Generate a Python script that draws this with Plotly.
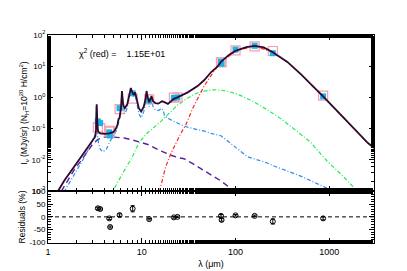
import plotly.graph_objects as go

# ---------------- data ----------------
# total model
tot_wl = [1.15, 1.28, 1.5, 1.8, 2.0, 2.26, 2.6, 3.0, 3.2, 3.25, 3.29, 3.31, 3.36, 3.42, 3.6, 4.0, 4.5, 5.0, 5.3, 5.5,
          5.65, 5.8, 6.0, 6.15, 6.35, 6.6, 7.0, 7.4, 7.65, 7.9, 8.2, 8.5, 8.8, 9.3, 9.85, 10.5, 11.0, 11.25, 11.6,
          12.0, 12.5, 12.7, 13.2, 14.0, 15.0, 16.4, 17.0, 18.0, 19.0, 22.0, 24.0, 30.9, 39.4, 46.5, 55.0, 64.0,
          70.0, 85.0, 100.0, 130.0, 160.0, 200.0, 250.0, 357.0, 500.0, 860.0, 1500.0, 2540.0, 3000.0]
tot_val = [0.0005, 0.001, 0.0022, 0.005, 0.0075, 0.0126, 0.022, 0.042, 0.056, 0.09, 0.5, 0.6, 0.15, 0.08, 0.07, 0.068,
           0.07, 0.078, 0.1, 0.13, 0.2, 0.22, 0.45, 1.6, 0.55, 0.45, 0.6, 1.3, 2.0, 1.5, 1.2, 1.45, 0.9, 0.45, 0.35,
           0.5, 0.9, 1.6, 1.0, 0.7, 0.95, 1.1, 0.75, 0.65, 0.63, 0.75, 0.73, 0.66, 0.62, 0.9, 1.0, 1.45, 2.3, 3.6,
           6.5, 9.6, 13.7, 23.0, 31.0, 41.0, 45.0, 40.0, 28.0, 13.7, 5.5, 1.08, 0.19, 0.036, 0.024]

# PAH component (blue)
pah_wl = [1.35, 1.5, 1.8, 2.08, 2.4, 2.66, 2.9, 3.14, 3.22, 3.27, 3.3, 3.33, 3.38, 3.45, 3.6, 3.84, 4.2, 4.6, 5.1,
          5.4, 5.65, 5.9, 6.15, 6.35, 6.6, 7.0, 7.4, 7.65, 7.9, 8.2, 8.5, 8.8, 9.3, 9.85, 10.5, 11.0, 11.25, 11.6,
          12.0, 12.7, 13.2, 14.0, 15.0, 16.4, 17.0, 17.5, 20.5, 28.3, 35.0, 46.5, 55.0, 70.0, 90.0, 134.0, 218.0,
          258.0, 496.0, 1100.0, 1300.0]
pah_val = [0.0005, 0.001, 0.0025, 0.005, 0.011, 0.02, 0.035, 0.055, 0.07, 0.2, 0.5, 0.3, 0.06, 0.035, 0.022, 0.018,
           0.022, 0.04, 0.066, 0.09, 0.15, 0.3, 1.3, 0.4, 0.3, 0.45, 1.1, 1.8, 1.3, 1.0, 1.2, 0.7, 0.3, 0.22, 0.35,
           0.7, 1.3, 0.75, 0.5, 0.85, 0.5, 0.4, 0.38, 0.44, 0.38, 0.25, 0.19, 0.12, 0.1, 0.083, 0.07, 0.059, 0.032,
           0.0126, 0.0079, 0.0063, 0.003, 0.001, 0.0007]

# stellar component (purple dashed)
star_wl = [1.25, 1.39, 1.6, 1.92, 2.26, 2.6, 3.0, 3.4, 3.9, 4.4, 5.0, 6.5, 8.0, 9.8, 11.6, 15.0, 20.5, 25.0, 28.3,
           35.0, 50.0, 70.0, 97.0, 110.0]
star_val = [0.0005, 0.001, 0.002, 0.005, 0.0095, 0.017, 0.032, 0.045, 0.053, 0.055, 0.054, 0.05, 0.043, 0.036,
            0.031, 0.021, 0.014, 0.0115, 0.0108, 0.0075, 0.0039, 0.0021, 0.001, 0.0008]

# warm dust (green)
warm_wl = [4.6, 4.9, 5.5, 6.5, 8.0, 9.1, 9.8, 11.6, 14.0, 16.0, 20.0, 24.0, 30.0, 36.5, 46.5, 59.0, 70.0, 80.0,
           105.0, 128.0, 160.0, 218.0, 279.0, 400.0, 496.0, 628.0, 950.0, 1400.0, 1980.0, 2300.0]
warm_val = [0.0007, 0.001, 0.0018, 0.0045, 0.013, 0.03, 0.042, 0.075, 0.12, 0.17, 0.33, 0.56, 0.9, 1.28, 1.6, 1.74,
            1.7, 1.6, 1.28, 0.95, 0.7, 0.4, 0.25, 0.11, 0.066, 0.037, 0.009, 0.003, 0.001, 0.0006]

# cold dust (red)
cold_wl = [14.5, 15.5, 18.0, 20.5, 25.8, 29.6, 35.0, 46.5, 60.0, 70.0, 100.0, 160.0, 250.0, 357.0, 500.0, 860.0,
           1500.0, 2540.0, 3000.0]
cold_val = [0.0005, 0.001, 0.006, 0.016, 0.066, 0.135, 0.45, 2.4, 7.5, 13.0, 30.5, 44.5, 27.8, 13.6, 5.45, 1.07,
            0.19, 0.036, 0.024]

# photometry
band_wl = [3.4, 3.6, 4.5, 4.6, 5.8, 8.0, 12.0, 22.0, 24.0, 70.0, 71.0, 100.0, 160.0, 250.0, 860.0]
obs_val = [0.17, 0.15, 0.076, 0.06, 0.45, 1.35, 0.79, 0.96, 1.0, 14.0, 12.0, 34.0, 45.0, 26.0, 1.08]
mod_val = [0.11, 0.104, 0.08, 0.084, 0.42, 0.92, 0.86, 0.98, 1.0, 13.4, 13.4, 32.0, 43.5, 30.7, 1.14]
resid = [34, 31, -6, -40, 7, 32, -9, -2, 0, 4, -12, 6, 4, -18, -6]
resid_err = [4, 4, 4, 4, 5, 12, 3, 3, 3, 5, 5, 3, 3, 10, 6]

chi_text = "χ<sup>2</sup> (red) =    1.15E+01"
x_ticks = [1, 10, 100, 1000]
x_ticklabels = ["1", "10", "100", "1000"]
y_ticks = [0.001, 0.01, 0.1, 1, 10, 100]
y_ticklabels = ["10<sup>-3</sup>", "10<sup>-2</sup>", "10<sup>-1</sup>", "10<sup>0</sup>", "10<sup>1</sup>",
                "10<sup>2</sup>"]
r_ticks = [-100, -50, 0, 50, 100]
r_ticklabels = ["-100", "-50", "0", "50", "100"]

# ---------------- figure ----------------
fig = go.Figure()

fig.add_trace(go.Scatter(x=star_wl, y=star_val, mode="lines",
                         line=dict(color="#5a1e9e", width=1.4, dash="6px,4px"), xaxis="x", yaxis="y"))
fig.add_trace(go.Scatter(x=pah_wl, y=pah_val, mode="lines",
                         line=dict(color="#2b8cf0", width=1.2, dash="4px,2px,1px,2px"), xaxis="x", yaxis="y"))
fig.add_trace(go.Scatter(x=warm_wl, y=warm_val, mode="lines",
                         line=dict(color="#22ee55", width=1.2, dash="4px,2px,1px,2px"), xaxis="x", yaxis="y"))
fig.add_trace(go.Scatter(x=cold_wl, y=cold_val, mode="lines",
                         line=dict(color="#ff2020", width=1.2, dash="4px,2px,1px,2px"), xaxis="x", yaxis="y"))
fig.add_trace(go.Scatter(x=band_wl, y=mod_val, mode="markers",
                         marker=dict(symbol="square-open", size=9, color="#f7a0aa", line=dict(width=1.2)),
                         xaxis="x", yaxis="y"))
fig.add_trace(go.Scatter(x=band_wl, y=obs_val, mode="markers",
                         marker=dict(symbol="square", size=6, color="#1ab2e8", line=dict(width=0)),
                         xaxis="x", yaxis="y"))
fig.add_trace(go.Scatter(x=tot_wl, y=tot_val, mode="lines",
                         line=dict(color="#2e0a30", width=1.8), xaxis="x", yaxis="y"))

# residuals
fig.add_trace(go.Scatter(x=[1, 3000], y=[0, 0], mode="lines",
                         line=dict(color="black", width=1, dash="4px,3px"), xaxis="x2", yaxis="y2"))
fig.add_trace(go.Scatter(x=band_wl, y=resid, mode="markers",
                         marker=dict(symbol="circle-open", size=5, color="black", line=dict(width=1)),
                         error_y=dict(type="data", array=resid_err, color="black", thickness=1, width=2),
                         xaxis="x2", yaxis="y2"))

fig.add_annotation(x=0.09, y=0.915, xref="paper", yref="paper", text=chi_text, showarrow=False,
                   xanchor="left", yanchor="middle", font=dict(size=9, color="black"))

axis_common = dict(showline=True, linecolor="black", linewidth=1, mirror="allticks",
                   ticks="inside", tickcolor="black", showgrid=False, zeroline=False)

fig.update_layout(
    width=407, height=271,
    margin=dict(l=40, r=41, t=27, b=28),
    plot_bgcolor="white", paper_bgcolor="white",
    showlegend=False,
    font=dict(family="Liberation Sans, Arial, sans-serif", size=9, color="black"),
    xaxis=dict(type="log", range=[0, 3.477], domain=[0, 1], anchor="y", showticklabels=False,
               ticklen=5, tickvals=x_ticks,
               minor=dict(ticks="inside", ticklen=3, tickcolor="black", showgrid=False), **axis_common),
    yaxis=dict(type="log", range=[-3, 2], domain=[0.25, 1], anchor="x", ticklen=5,
               tickvals=y_ticks, ticktext=y_ticklabels, tickfont=dict(size=8),
               minor=dict(ticks="inside", ticklen=3, tickcolor="black", showgrid=False),
               title=dict(text="I<sub>ν</sub> (MJy/sr) (N<sub>H</sub>=10<sup>20</sup> H/cm<sup>2</sup>)",
                          font=dict(size=8.5), standoff=2), **axis_common),
    xaxis2=dict(type="log", range=[0, 3.477], domain=[0, 1], anchor="y2", matches="x",
                tickvals=x_ticks, ticktext=x_ticklabels, ticklen=5, tickfont=dict(size=9),
                minor=dict(ticks="inside", ticklen=3, tickcolor="black", showgrid=False),
                title=dict(text="λ (μm)", font=dict(size=9), standoff=4), **axis_common),
    yaxis2=dict(range=[-103, 102], domain=[0, 0.25], anchor="x2", tickvals=r_ticks, ticktext=r_ticklabels,
                ticklen=5, tickfont=dict(size=8),
                minor=dict(ticks="inside", ticklen=3, dtick=10, tickcolor="black", showgrid=False),
                title=dict(text="Residuals (%)", font=dict(size=8.5), standoff=2), **axis_common),
)

fig.write_html("out.html")
